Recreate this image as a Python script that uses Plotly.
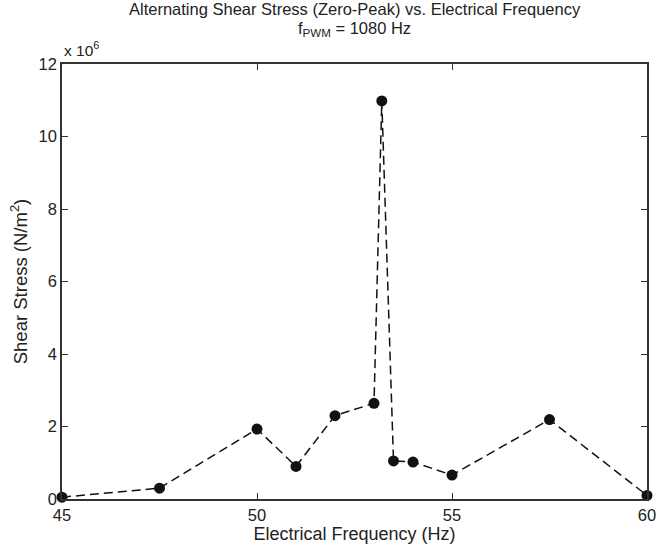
import plotly.graph_objects as go

freq_hz = [45, 47.5, 50, 51, 52, 53, 53.2, 53.5, 54, 55, 57.5, 60]
stress_1e6 = [0.05, 0.3, 1.93, 0.9, 2.3, 2.64, 10.98, 1.05, 1.02, 0.66, 2.19, 0.1]
x_ticks = [45, 50, 55, 60]
y_ticks = [0, 2, 4, 6, 8, 10, 12]
title_line1 = "Alternating Shear Stress (Zero-Peak) vs. Electrical Frequency"
title_line2 = "f<sub>PWM</sub> = 1080 Hz"

scale = 1e6
stress = [v * scale for v in stress_1e6]

font_family = "Liberation Sans, Arial, sans-serif"
txt = "#222222"

fig = go.Figure()
fig.add_trace(go.Scatter(
    x=freq_hz, y=stress, mode="lines+markers",
    line=dict(color="#111111", width=1.5, dash="9px,5px"),
    marker=dict(color="#111111", size=11, symbol="circle"),
    showlegend=False, cliponaxis=False,
))

axis_common = dict(
    showgrid=False, zeroline=False, showline=True, linecolor="#333333", linewidth=1.5,
    mirror="ticks", ticks="inside", ticklen=6, tickcolor="#333333", tickwidth=1,
    tickfont=dict(family=font_family, size=16.5, color=txt),
)

fig.update_layout(
    width=664, height=550,
    margin=dict(l=62, r=8, t=64, b=51),
    paper_bgcolor="white", plot_bgcolor="white",
    font=dict(family=font_family, color=txt),
    xaxis=dict(
        range=[45, 60], tickvals=x_ticks, ticktext=[str(t) for t in x_ticks],
        title=dict(text="Electrical Frequency (Hz)", font=dict(size=18, color=txt), standoff=1),
        **axis_common,
    ),
    yaxis=dict(
        range=[0, 12 * scale], tickvals=[t * scale for t in y_ticks], ticktext=[str(t) for t in y_ticks],
        title=dict(text="Shear Stress (N/m<sup>2</sup>)", font=dict(size=18.5, color=txt), standoff=6),
        **axis_common,
    ),
    annotations=[
        dict(text=title_line1, xref="paper", yref="paper", x=0.5, y=1.0,
             xanchor="center", yanchor="middle", yshift=55, showarrow=False,
             font=dict(family=font_family, size=16.5, color=txt)),
        dict(text=title_line2, xref="paper", yref="paper", x=0.5, y=1.0,
             xanchor="center", yanchor="middle", yshift=35, showarrow=False,
             font=dict(family=font_family, size=16.5, color=txt)),
        dict(text="x 10<sup>6</sup>", xref="paper", yref="paper", x=0.0, y=1.0,
             xanchor="left", yanchor="bottom", showarrow=False,
             font=dict(family=font_family, size=15.5, color=txt), yshift=3),
    ],
)

fig.write_html("out.html", config={"displayModeBar": False},
               post_script="document.body.style.margin='0';document.body.style.overflow='hidden';")
